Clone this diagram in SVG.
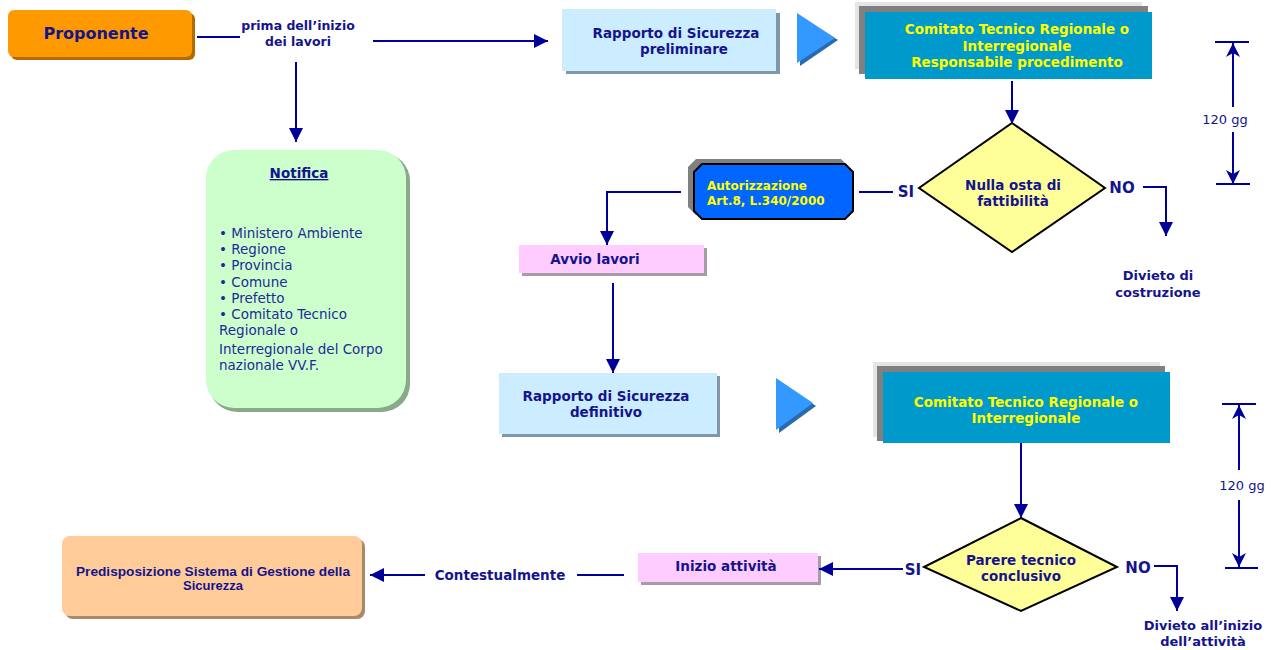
<svg xmlns="http://www.w3.org/2000/svg" width="1276" height="650" viewBox="0 0 1276 650">
<defs>
<style>
.t{font-family:"DejaVu Sans",Verdana,sans-serif;font-weight:bold;fill:#14148C;text-anchor:middle;font-size:13.5px}
.y{font-family:"DejaVu Sans",Verdana,sans-serif;font-weight:bold;fill:#FFFF00;text-anchor:middle;font-size:13.5px}
.ys{font-family:"DejaVu Sans",Verdana,sans-serif;font-weight:bold;fill:#FFFF00;text-anchor:start;font-size:12px}
.n{font-family:"DejaVu Sans",Verdana,sans-serif;fill:#1F2A99;font-size:13.5px}
.g{font-family:"DejaVu Sans",Verdana,sans-serif;fill:#14148C;text-anchor:middle;font-size:13px}
.p{font-family:"Liberation Sans",Arial,sans-serif;font-weight:bold;fill:#14148C;text-anchor:middle;font-size:12px}
.c{fill:none;stroke:#000099;stroke-width:2}
</style>
<marker id="ah" markerUnits="userSpaceOnUse" markerWidth="16" markerHeight="14" refX="14" refY="7" orient="auto">
<path d="M0,0 L14,7 L0,14 Z" fill="#000099"/>
</marker>
<marker id="ab" markerUnits="userSpaceOnUse" markerWidth="16" markerHeight="14" refX="14" refY="7" orient="auto">
<path d="M0,0 L14,7 L0,14 L4,7 Z" fill="#000099"/>
</marker>
</defs>
<rect width="1276" height="650" fill="#FFFFFF"/>

<g id="proponente">
<rect x="11" y="13" width="184" height="47" rx="6" fill="#B36B00"/>
<rect x="8" y="10" width="184" height="47" rx="6" fill="#FF9900"/>
<text class="t" x="96" y="39" style="font-size:16px">Proponente</text>
</g>

<g id="label-prima">
<text class="t" x="298" y="30" style="font-size:12.5px">prima dell’inizio</text>
<text class="t" x="298" y="46" style="font-size:12.5px">dei lavori</text>
</g>

<g id="rapporto-preliminare">
<rect x="566" y="13" width="214" height="61" fill="#7F97A8"/>
<rect x="562" y="9" width="214" height="62" fill="#CCECFF"/>
<text class="t" x="676" y="38">Rapporto di Sicurezza</text>
<text class="t" x="684" y="54">preliminare</text>
</g>

<g id="triangle1">
<path d="M800,16 L838,40 L800,66 Z" fill="#2A6AAE"/>
<path d="M797,13 L835,38 L797,63 Z" fill="#3399FF"/>
</g>

<g id="comitato1">
<rect x="855" y="2" width="287" height="67" fill="#E5E5E5"/>
<rect x="859" y="6" width="289" height="68" fill="#808080"/>
<rect x="865" y="12" width="287" height="67" fill="#0099CC"/>
<text class="y" x="1017" y="34">Comitato Tecnico Regionale o</text>
<text class="y" x="1017" y="51">Interregionale</text>
<text class="y" x="1017" y="67">Responsabile procedimento</text>
</g>

<g id="nullaosta">
<path d="M1012,123 L1105,188 L1012,252 L919,188 Z" fill="#FFFF99" stroke="#000000" stroke-width="2"/>
<text class="t" x="1013" y="190">Nulla osta di</text>
<text class="t" x="1013" y="206">fattibilità</text>
</g>

<g id="autorizzazione">
<path d="M696,159 L841,159 L849,167 L849,207 L841,215 L696,215 L688,207 L688,167 Z" fill="#808080"/>
<path d="M702,164 L845,164 L853,172 L853,211 L845,219 L702,219 L694,211 L694,172 Z" fill="#0066FF" stroke="#000000" stroke-width="2"/>
<text class="ys" x="707" y="190">Autorizzazione</text>
<text class="ys" x="707" y="205">Art.8, L.340/2000</text>
</g>

<g id="avvio">
<rect x="522" y="248" width="185" height="28" fill="#A89BA8"/>
<rect x="519" y="245" width="185" height="28" fill="#FFCCFF"/>
<text class="t" x="595" y="264">Avvio lavori</text>
</g>

<g id="notifica">
<rect x="209" y="153" width="201" height="259" rx="28" fill="#8AA88A"/>
<rect x="206" y="150" width="200" height="258" rx="28" fill="#CCFFCC"/>
<text class="t" x="299" y="178" text-decoration="underline">Notifica</text>
<text class="n" x="219" y="238">• Ministero Ambiente</text>
<text class="n" x="219" y="254">• Regione</text>
<text class="n" x="219" y="270">• Provincia</text>
<text class="n" x="219" y="287">• Comune</text>
<text class="n" x="219" y="303">• Prefetto</text>
<text class="n" x="219" y="319">• Comitato Tecnico</text>
<text class="n" x="219" y="335">Regionale o</text>
<text class="n" x="219" y="354">Interregionale del Corpo</text>
<text class="n" x="219" y="370">nazionale  VV.F.</text>
</g>

<g id="divieto-costruzione">
<text class="t" x="1158" y="280" style="font-size:13px">Divieto di</text>
<text class="t" x="1158" y="297" style="font-size:13px">costruzione</text>
</g>

<g id="rapporto-definitivo">
<rect x="502" y="376" width="218" height="61" fill="#7F97A8"/>
<rect x="499" y="373" width="218" height="61" fill="#CCECFF"/>
<text class="t" x="606" y="401">Rapporto di Sicurezza</text>
<text class="t" x="606" y="417">definitivo</text>
</g>

<g id="triangle2">
<path d="M779,381 L816,406 L779,433 Z" fill="#2A6AAE"/>
<path d="M776,378 L813,403 L776,430 Z" fill="#3399FF"/>
</g>

<g id="comitato2">
<rect x="873" y="362" width="287" height="75" fill="#E5E5E5"/>
<rect x="877" y="366" width="288" height="75" fill="#808080"/>
<rect x="883" y="372" width="287" height="71" fill="#0099CC"/>
<text class="y" x="1026" y="407">Comitato Tecnico Regionale o</text>
<text class="y" x="1026" y="423">Interregionale</text>
</g>

<g id="parere">
<path d="M1021,518 L1117,567 L1021,611 L924,567 Z" fill="#FFFF99" stroke="#000000" stroke-width="2"/>
<text class="t" x="1021" y="565">Parere tecnico</text>
<text class="t" x="1021" y="581">conclusivo</text>
</g>

<g id="inizio">
<rect x="641" y="556" width="180" height="29" fill="#A89BA8"/>
<rect x="638" y="553" width="180" height="29" fill="#FFCCFF"/>
<text class="t" x="726" y="571">Inizio attività</text>
</g>

<g id="predisposizione">
<rect x="65" y="539" width="300" height="80" rx="8" fill="#A88A6B"/>
<rect x="62" y="536" width="300" height="80" rx="8" fill="#FFCC99"/>
<text class="p" x="213" y="576" textLength="274" lengthAdjust="spacingAndGlyphs">Predisposizione Sistema di Gestione della</text>
<text class="p" x="213" y="590" textLength="60" lengthAdjust="spacingAndGlyphs">Sicurezza</text>
</g>

<g id="divieto-attivita">
<text class="t" x="1203" y="630" style="font-size:13px">Divieto all’inizio</text>
<text class="t" x="1203" y="646" style="font-size:13px">dell’attività</text>
</g>

<g id="labels">
<text class="t" x="906" y="197" style="font-size:15px">SI</text>
<text class="t" x="1122" y="193" style="font-size:15px">NO</text>
<text class="t" x="913" y="575" style="font-size:15px">SI</text>
<text class="t" x="1138" y="573" style="font-size:15px">NO</text>
<text class="t" x="500" y="580">Contestualmente</text>
<text class="g" x="1225" y="124">120 gg</text>
<text class="g" x="1242" y="490">120 gg</text>
</g>

<g id="connectors">
<line class="c" x1="197" y1="37" x2="240" y2="37"/>
<line class="c" x1="373" y1="41" x2="548" y2="41" marker-end="url(#ah)"/>
<line class="c" x1="296" y1="62" x2="296" y2="142" marker-end="url(#ah)"/>
<line class="c" x1="1012" y1="81" x2="1012" y2="124" marker-end="url(#ah)"/>
<line class="c" x1="859" y1="192" x2="893" y2="192"/>
<polyline class="c" points="1143,187 1166,187 1166,236" marker-end="url(#ah)"/>
<polyline class="c" points="681,192 607,192 607,245" marker-end="url(#ah)"/>
<line class="c" x1="613" y1="283" x2="613" y2="373" marker-end="url(#ah)"/>
<line class="c" x1="1021" y1="443" x2="1021" y2="518" marker-end="url(#ah)"/>
<line class="c" x1="903" y1="569" x2="819" y2="569" marker-end="url(#ah)"/>
<line class="c" x1="624" y1="575" x2="577" y2="575"/>
<line class="c" x1="425" y1="575" x2="370" y2="575" marker-end="url(#ah)"/>
<polyline class="c" points="1154,566 1177,566 1177,611" marker-end="url(#ah)"/>
<line class="c" x1="1215" y1="42" x2="1249" y2="42"/>
<line class="c" x1="1233" y1="107" x2="1233" y2="43" marker-end="url(#ab)"/>
<line class="c" x1="1233" y1="132" x2="1233" y2="184" marker-end="url(#ab)"/>
<line class="c" x1="1216" y1="184" x2="1250" y2="184"/>
<line class="c" x1="1222" y1="404" x2="1256" y2="404"/>
<line class="c" x1="1239" y1="470" x2="1239" y2="405" marker-end="url(#ab)"/>
<line class="c" x1="1239" y1="500" x2="1239" y2="567" marker-end="url(#ab)"/>
<line class="c" x1="1225" y1="568" x2="1258" y2="568"/>
</g>
</svg>
